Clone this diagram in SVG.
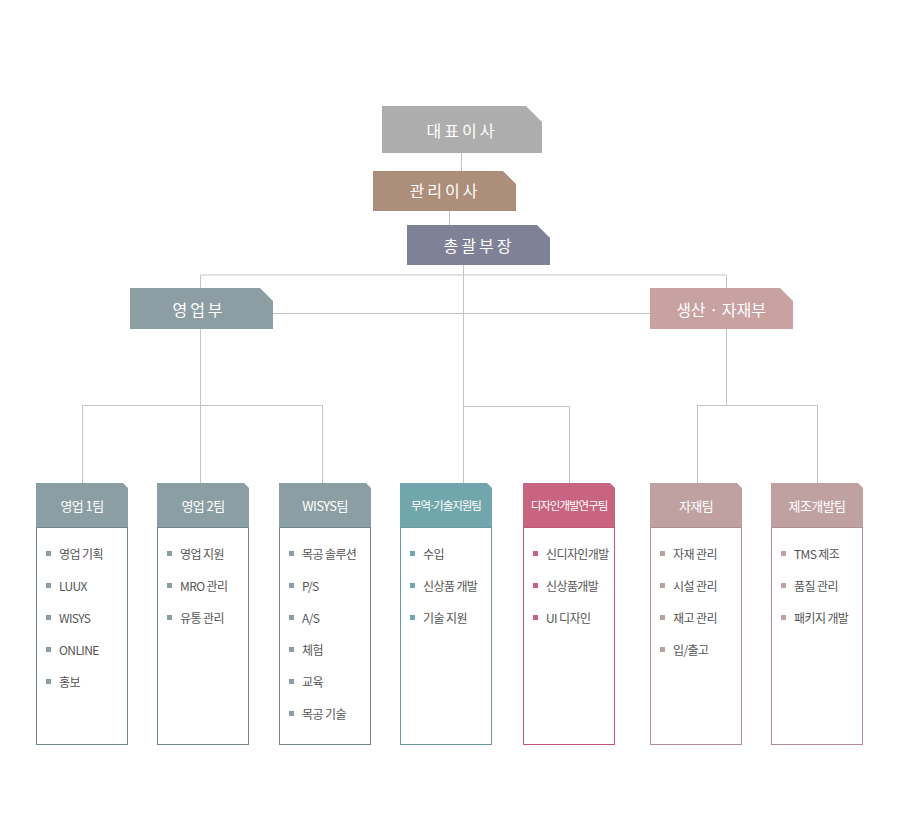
<svg xmlns="http://www.w3.org/2000/svg" width="923" height="839" viewBox="0 0 923 839">
<style>
.conn{fill:none;stroke:#c4c4c4;stroke-width:1}
.top{font-family:"Noto Sans CJK KR","Noto Sans",sans-serif;font-size:16px;fill:#fff;text-anchor:middle;dominant-baseline:central;letter-spacing:3px}
.hd{font-family:"Noto Sans CJK KR","Noto Sans",sans-serif;font-size:13px;fill:#fff;text-anchor:middle;dominant-baseline:central;letter-spacing:-0.6px}
.hds{font-family:"Noto Sans CJK KR","Noto Sans",sans-serif;font-size:11.5px;fill:#fff;text-anchor:middle;dominant-baseline:central;letter-spacing:-1px}
.dot{font-family:"Liberation Sans",sans-serif}
.it{font-family:"Noto Sans CJK KR","Noto Sans",sans-serif;font-size:12px;fill:#555;dominant-baseline:central;letter-spacing:-0.6px}
.body{fill:#fff;stroke-width:1}
.g .hdr,.g .bul{fill:#8a9ea3}.g .body{stroke:#72878d}
.t .hdr,.t .bul{fill:#72a6ad}.t .body{stroke:#6a9aa1}
.p .hdr,.p .bul{fill:#c96480}.p .body{stroke:#c4557a}
.m .hdr,.m .bul{fill:#bfa1a2}.m .body{stroke:#b08d8e}
</style>
<g id="connectors">
<path class="conn" d="M461.5 153V171M449.5 211V225M463.5 265V483M200.5 275H726.5M200.5 275V288M726.5 275V288M273 313.5H650M200.5 329V483M82.5 405.5H322.5M82.5 405.5V483M322.5 405.5V483M463.5 406.5H569.5V483M726.5 329V405.5M697.5 405.5H817.5M697.5 405.5V483M817.5 405.5V483"/>
</g>
<g id="ceo"><path d="M382 106H526L542 122V153H382Z" fill="#adadad"/><text class="top" x="462" y="130">대표이사</text></g>
<g id="director"><path d="M373 171H503L516 184V211H373Z" fill="#ad8e7b"/><text class="top" x="445" y="190">관리이사</text></g>
<g id="general-manager"><path d="M407 225H537L550 238V265H407Z" fill="#7f8296"/><text class="top" x="479" y="245">총괄부장</text></g>
<g id="sales-dept"><path d="M130 288H260L273 301V329H130Z" fill="#8c9ea3"/><text class="top" x="199" y="308.5">영업부</text></g>
<g id="production-dept"><path d="M650 288H780L793 301V329H650Z" fill="#c8a1a1"/><text class="top" x="721" y="308.5" style="letter-spacing:0">생산 · 자재부</text></g>

<g id="sales1" class="g">
<path class="hdr" d="M36 483H123L128 488V528H36Z"/><rect class="body" x="36.5" y="527.5" width="91" height="217"/>
<text class="hd" x="82" y="505">영업 1팀</text>
<rect class="bul" x="46" y="551" width="5" height="5"/><text class="it" x="59" y="553.5">영업 기획</text>
<rect class="bul" x="46" y="583" width="5" height="5"/><text class="it" x="59" y="585.5">LUUX</text>
<rect class="bul" x="46" y="615" width="5" height="5"/><text class="it" x="59" y="617.5">WISYS</text>
<rect class="bul" x="46" y="647" width="5" height="5"/><text class="it" x="59" y="649.5">ONLINE</text>
<rect class="bul" x="46" y="679" width="5" height="5"/><text class="it" x="59" y="681.5">홍보</text>
</g>
<g id="sales2" class="g">
<path class="hdr" d="M157 483H244L249 488V528H157Z"/><rect class="body" x="157.5" y="527.5" width="91" height="217"/>
<text class="hd" x="203" y="505">영업 2팀</text>
<rect class="bul" x="167" y="551" width="5" height="5"/><text class="it" x="180" y="553.5">영업 지원</text>
<rect class="bul" x="167" y="583" width="5" height="5"/><text class="it" x="180" y="585.5">MRO 관리</text>
<rect class="bul" x="167" y="615" width="5" height="5"/><text class="it" x="180" y="617.5">유통 관리</text>
</g>
<g id="wisys" class="g">
<path class="hdr" d="M279 483H366L371 488V528H279Z"/><rect class="body" x="279.5" y="527.5" width="91" height="217"/>
<text class="hd" x="325" y="505">WISYS팀</text>
<rect class="bul" x="289" y="551" width="5" height="5"/><text class="it" x="302" y="553.5">목공 솔루션</text>
<rect class="bul" x="289" y="583" width="5" height="5"/><text class="it" x="302" y="585.5">P/S</text>
<rect class="bul" x="289" y="615" width="5" height="5"/><text class="it" x="302" y="617.5">A/S</text>
<rect class="bul" x="289" y="647" width="5" height="5"/><text class="it" x="302" y="649.5">체험</text>
<rect class="bul" x="289" y="679" width="5" height="5"/><text class="it" x="302" y="681.5">교육</text>
<rect class="bul" x="289" y="711" width="5" height="5"/><text class="it" x="302" y="713.5">목공 기술</text>
</g>
<g id="trade" class="t">
<path class="hdr" d="M400 483H487L492 488V528H400Z"/><rect class="body" x="400.5" y="527.5" width="91" height="217"/>
<text class="hds" x="446" y="505">무역<tspan class="dot">·</tspan>기술지원팀</text>
<rect class="bul" x="410" y="551" width="5" height="5"/><text class="it" x="423" y="553.5">수입</text>
<rect class="bul" x="410" y="583" width="5" height="5"/><text class="it" x="423" y="585.5">신상품 개발</text>
<rect class="bul" x="410" y="615" width="5" height="5"/><text class="it" x="423" y="617.5">기술 지원</text>
</g>
<g id="design" class="p">
<path class="hdr" d="M523 483H610L615 488V528H523Z"/><rect class="body" x="523.5" y="527.5" width="91" height="217"/>
<text class="hds" x="569" y="505">디자인개발연구팀</text>
<rect class="bul" x="533" y="551" width="5" height="5"/><text class="it" x="546" y="553.5">신디자인개발</text>
<rect class="bul" x="533" y="583" width="5" height="5"/><text class="it" x="546" y="585.5">신상품개발</text>
<rect class="bul" x="533" y="615" width="5" height="5"/><text class="it" x="546" y="617.5">UI 디자인</text>
</g>
<g id="material" class="m">
<path class="hdr" d="M650 483H737L742 488V528H650Z"/><rect class="body" x="650.5" y="527.5" width="91" height="217"/>
<text class="hd" x="696" y="505">자재팀</text>
<rect class="bul" x="660" y="551" width="5" height="5"/><text class="it" x="673" y="553.5">자재 관리</text>
<rect class="bul" x="660" y="583" width="5" height="5"/><text class="it" x="673" y="585.5">시설 관리</text>
<rect class="bul" x="660" y="615" width="5" height="5"/><text class="it" x="673" y="617.5">재고 관리</text>
<rect class="bul" x="660" y="647" width="5" height="5"/><text class="it" x="673" y="649.5">입/출고</text>
</g>
<g id="manufacturing" class="m">
<path class="hdr" d="M771 483H858L863 488V528H771Z"/><rect class="body" x="771.5" y="527.5" width="91" height="217"/>
<text class="hd" x="817" y="505">제조개발팀</text>
<rect class="bul" x="781" y="551" width="5" height="5"/><text class="it" x="794" y="553.5">TMS 제조</text>
<rect class="bul" x="781" y="583" width="5" height="5"/><text class="it" x="794" y="585.5">품질 관리</text>
<rect class="bul" x="781" y="615" width="5" height="5"/><text class="it" x="794" y="617.5">패키지 개발</text>
</g>
</svg>
